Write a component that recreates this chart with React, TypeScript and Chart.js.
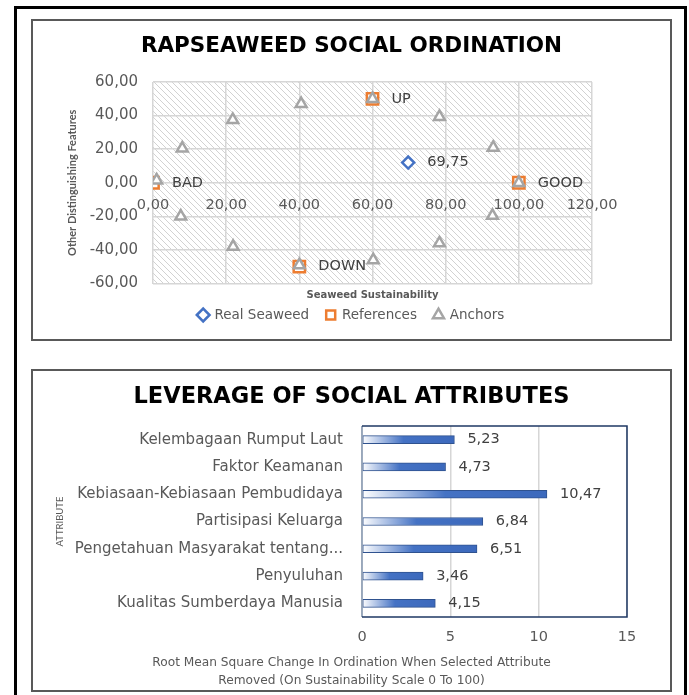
import { useEffect, useRef } from "react";
import { Chart, registerables } from "chart.js";

Chart.register(...registerables);

// ---------- Ordination (Seaweed Sustainability vs Other Distinguishing Features)
const seaweedX = [69.75];
const seaweedY = [12];
const referenceNames = ["BAD", "GOOD", "UP", "DOWN"];
const referenceX = [0, 100, 60, 40];
const referenceY = [0, 0, 50, -50];
const anchorX = [1, 8, 21.8, 40.5, 60, 78.3, 93, 100, 92.8, 78.3, 60.2, 40, 21.9, 7.6];
const anchorY = [1.5, 20.5, 37.5, 47, 50, 39.3, 21, 0, -19.6, -36, -46, -49, -38, -20];
const ordinationXTicks = [0, 20, 40, 60, 80, 100, 120];
const ordinationYTicks = [-60, -40, -20, 0, 20, 40, 60];

// ---------- Leverage of social attributes
const attributeNames = [
  "Kelembagaan Rumput Laut",
  "Faktor Keamanan",
  "Kebiasaan-Kebiasaan Pembudidaya",
  "Partisipasi Keluarga",
  "Pengetahuan Masyarakat tentang...",
  "Penyuluhan",
  "Kualitas Sumberdaya Manusia",
];
const leverageValues = [5.23, 4.73, 10.47, 6.84, 6.51, 3.46, 4.15];
const leverageTicks = [0, 5, 10, 15];
const leverageAxisTitle = [
  "Root Mean Square Change In Ordination When Selected Attribute",
  "Removed (On Sustainability Scale 0 To 100)",
];

const WIDE = "'DejaVu Sans', sans-serif";
const NARROW = "Lato, 'Noto Sans', sans-serif";
const AXIS_GRAY = "#595959";
const LABEL_GRAY = "#404040";
const GRID = "#d6d6d6";

const fmt2 = (v: number) => v.toFixed(2).replace(".", ",");
const fmtComma = (v: number) => String(v).replace(".", ",");

// diagonal hatch behind the ordination plot
const hatchPlugin = {
  id: "hatch",
  beforeDraw(chart: any) {
    const { ctx, chartArea: a } = chart;
    const tile = document.createElement("canvas");
    tile.width = 6;
    tile.height = 6;
    const t = tile.getContext("2d")!;
    t.strokeStyle = "#d2d2d2";
    t.lineWidth = 1;
    t.beginPath();
    t.moveTo(0, 0);
    t.lineTo(6, 6);
    t.moveTo(-1, 5);
    t.lineTo(1, 7);
    t.moveTo(5, -1);
    t.lineTo(7, 1);
    t.stroke();
    ctx.save();
    ctx.fillStyle = "#ffffff";
    ctx.fillRect(a.left, a.top, a.right - a.left, a.bottom - a.top);
    ctx.fillStyle = ctx.createPattern(tile, "repeat");
    ctx.fillRect(a.left, a.top, a.right - a.left, a.bottom - a.top);
    ctx.restore();
  },
};

// point labels and x tick labels running along the zero line
const ordinationLabels = {
  id: "ordinationLabels",
  afterDraw(chart: any) {
    const { ctx } = chart;
    ctx.save();
    ctx.font = `14.5px ${WIDE}`;
    ctx.fillStyle = LABEL_GRAY;
    ctx.textAlign = "left";
    ctx.textBaseline = "middle";
    chart.getDatasetMeta(0).data.forEach((pt: any, i: number) => {
      ctx.fillText(fmt2(seaweedX[i]), pt.x + 19, pt.y);
    });
    chart.getDatasetMeta(1).data.forEach((pt: any, i: number) => {
      ctx.fillText(referenceNames[i], pt.x + 19, pt.y);
    });
    const xs = chart.scales.x;
    const ys = chart.scales.y;
    const y0 = ys.getPixelForValue(0) + 22;
    ctx.fillStyle = AXIS_GRAY;
    ctx.textAlign = "center";
    ordinationXTicks.forEach((v) => ctx.fillText(fmt2(v), xs.getPixelForValue(v), y0));
    ctx.restore();
  },
};

function OrdinationChart() {
  const ref = useRef<HTMLCanvasElement>(null);
  useEffect(() => {
    const chart = new Chart(ref.current!, {
      type: "scatter",
      data: {
        datasets: [
          {
            label: "Real Seaweed",
            data: seaweedX.map((x, i) => ({ x, y: seaweedY[i] })),
            pointStyle: "rectRot",
            pointRadius: 6,
            pointBorderWidth: 2.5,
            pointBorderColor: "#4472C4",
            pointBackgroundColor: "#ffffff",
            borderColor: "#4472C4",
            backgroundColor: "#ffffff",
            xAxisID: "x",
            yAxisID: "y",
            order: 2,
          },
          {
            label: "References",
            data: referenceX.map((x, i) => ({ x, y: referenceY[i] })),
            pointStyle: "rect",
            pointRadius: 8,
            pointBorderWidth: 2.5,
            pointBorderColor: "#ED7D31",
            pointBackgroundColor: "#ffffff",
            borderColor: "#ED7D31",
            backgroundColor: "#ffffff",
            xAxisID: "x",
            yAxisID: "y",
            order: 3,
          },
          {
            label: "Anchors",
            data: anchorX.map((x, i) => ({ x, y: anchorY[i] })),
            pointStyle: "triangle",
            pointRadius: 6.3,
            pointBorderWidth: 2.5,
            pointBorderColor: "#A5A5A5",
            pointBackgroundColor: "#ffffff",
            borderColor: "#A5A5A5",
            backgroundColor: "#ffffff",
            xAxisID: "x",
            yAxisID: "y",
            order: 1,
          },
        ],
      } as any,
      options: {
        animation: false,
        responsive: false,
        events: [],
        layout: { padding: { left: 0, right: 0, top: 0, bottom: 7.25 } },
        plugins: {
          title: {
            display: true,
            text: "RAPSEAWEED SOCIAL ORDINATION",
            color: "#000000",
            font: { family: WIDE, size: 21.5, weight: "bold" },
            padding: { top: 13, bottom: 22.2 },
          },
          legend: {
            position: "bottom",
            labels: {
              usePointStyle: true,
              boxHeight: 9,
              boxWidth: 9,
              padding: 17,
              color: AXIS_GRAY,
              font: { family: WIDE, size: 13.5 },
              sort: (a: any, b: any) => a.datasetIndex - b.datasetIndex,
            },
          },
          tooltip: { enabled: false },
        },
        scales: {
          x: {
            type: "linear",
            min: 0,
            max: 120,
            afterBuildTicks: (s: any) => {
              s.ticks = ordinationXTicks.map((value) => ({ value }));
            },
            ticks: { display: false },
            grid: { color: GRID, lineWidth: 1.5, drawTicks: false },
            border: { display: false },
            title: {
              display: true,
              text: "Seaweed Sustainability",
              color: AXIS_GRAY,
              font: { family: WIDE, size: 10, weight: "bold" },
              padding: { top: 0, bottom: -10.25 },
            },
            afterFit: (s: any) => {
              s.height = 7.75;
            },
          },
          y: {
            type: "linear",
            min: -60,
            max: 60,
            afterBuildTicks: (s: any) => {
              s.ticks = ordinationYTicks.map((value) => ({ value }));
            },
            ticks: {
              callback: (v: any) => fmt2(Number(v)),
              color: AXIS_GRAY,
              font: { family: WIDE, size: 15 },
              padding: 15,
            },
            grid: { color: GRID, lineWidth: 1.5, drawTicks: false },
            border: { display: false },
            title: {
              display: true,
              text: "Other Distinguishing Features",
              color: AXIS_GRAY,
              font: { family: NARROW, size: 11, weight: "bold" },
              padding: { top: 32.4, bottom: 0 },
            },
            afterFit: (s: any) => {
              s.width = 120;
            },
          },
          yRight: {
            type: "linear",
            position: "right",
            ticks: { display: false },
            grid: { display: false },
            border: { display: false },
            afterFit: (s: any) => {
              s.width = 78;
            },
          },
        },
      } as any,
      plugins: [hatchPlugin, ordinationLabels],
    });
    return () => chart.destroy();
  }, []);
  return <canvas ref={ref} width={637} height={318} style={{ display: "block" }} />;
}

// bar frame, value labels and the two-line axis caption
const leverageDecor = {
  id: "leverageDecor",
  afterDatasetsDraw(chart: any) {
    const { ctx, chartArea: a } = chart;
    ctx.save();
    ctx.lineWidth = 1.5;
    ctx.strokeStyle = "#8497B0";
    ctx.beginPath();
    ctx.moveTo(a.left, a.top);
    ctx.lineTo(a.left, a.bottom);
    ctx.stroke();
    ctx.strokeStyle = "#1F3864";
    ctx.beginPath();
    ctx.moveTo(a.left, a.top);
    ctx.lineTo(a.right, a.top);
    ctx.lineTo(a.right, a.bottom);
    ctx.lineTo(a.left, a.bottom);
    ctx.stroke();

    ctx.font = `14.5px ${WIDE}`;
    ctx.fillStyle = LABEL_GRAY;
    ctx.textAlign = "left";
    ctx.textBaseline = "middle";
    chart.getDatasetMeta(0).data.forEach((bar: any, i: number) => {
      ctx.fillText(fmtComma(leverageValues[i]), bar.x + 13, bar.y);
    });

    ctx.font = `12.2px ${WIDE}`;
    ctx.fillStyle = AXIS_GRAY;
    ctx.textAlign = "center";
    leverageAxisTitle.forEach((line, i) => {
      ctx.fillText(line, chart.width / 2, a.bottom + 46 + i * 18);
    });
    ctx.restore();
  },
};

function LeverageChart() {
  const ref = useRef<HTMLCanvasElement>(null);
  useEffect(() => {
    const chart = new Chart(ref.current!, {
      type: "bar",
      data: {
        labels: attributeNames,
        datasets: [
          {
            data: leverageValues,
            barThickness: 8,
            borderWidth: 1,
            borderColor: "#2F528F",
            borderSkipped: false,
            xAxisID: "x",
            yAxisID: "y",
            backgroundColor: (c: any) => {
              const chart = c.chart;
              if (!chart.chartArea || c.type !== "data") return "#4472C4";
              const xs = chart.scales.x;
              const x0 = xs.getPixelForValue(0);
              const x1 = xs.getPixelForValue(c.raw);
              const g = chart.ctx.createLinearGradient(x0, 0, x1, 0);
              g.addColorStop(0, "#ffffff");
              g.addColorStop(0.45, "#4472C4");
              g.addColorStop(1, "#3C69BC");
              return g;
            },
          },
        ],
      } as any,
      options: {
        indexAxis: "y",
        animation: false,
        responsive: false,
        events: [],
        layout: { padding: 0 },
        plugins: {
          legend: { display: false },
          tooltip: { enabled: false },
          title: {
            display: true,
            text: "LEVERAGE OF SOCIAL ATTRIBUTES",
            color: "#000000",
            font: { family: WIDE, size: 22.5, weight: "bold" },
            padding: { top: 12.5, bottom: 15.5 },
          },
        },
        scales: {
          x: {
            type: "linear",
            min: 0,
            max: 15,
            afterBuildTicks: (s: any) => {
              s.ticks = leverageTicks.map((value) => ({ value }));
            },
            ticks: {
              callback: (v: any) => String(v),
              color: AXIS_GRAY,
              font: { family: WIDE, size: 14.5 },
              padding: 11.3,
            },
            grid: { color: GRID, lineWidth: 1.5, drawTicks: false },
            border: { display: false },
            afterFit: (s: any) => {
              s.height = 73;
            },
          },
          y: {
            type: "category",
            ticks: { color: AXIS_GRAY, font: { family: WIDE, size: 15 }, padding: 19 },
            grid: { display: false, drawTicks: false },
            border: { display: false },
            title: {
              display: true,
              text: "ATTRIBUTE",
              color: AXIS_GRAY,
              font: { family: NARROW, size: 9.5 },
              padding: { top: 21.3, bottom: 0 },
            },
            afterFit: (s: any) => {
              s.width = 329;
            },
          },
          yRight: {
            type: "linear",
            position: "right",
            ticks: { display: false },
            grid: { display: false },
            border: { display: false },
            afterFit: (s: any) => {
              s.width = 43;
            },
          },
        },
      } as any,
      plugins: [leverageDecor],
    });
    return () => chart.destroy();
  }, []);
  return <canvas ref={ref} width={637} height={319} style={{ display: "block" }} />;
}

export default function App() {
  return (
    <div
      style={{
        position: "absolute",
        left: 0,
        top: 0,
        width: 689,
        height: 695,
        overflow: "hidden",
        background: "#ffffff",
      }}
    >
      <div
        style={{
          position: "absolute",
          left: 14,
          top: 6,
          width: 673,
          height: 700,
          border: "3px solid #000000",
          boxSizing: "border-box",
        }}
      />
      <div
        style={{
          position: "absolute",
          left: 31,
          top: 19,
          width: 641,
          height: 322,
          border: "2px solid #595959",
          boxSizing: "border-box",
          background: "#ffffff",
        }}
      >
        <OrdinationChart />
      </div>
      <div
        style={{
          position: "absolute",
          left: 31,
          top: 369,
          width: 641,
          height: 323,
          border: "2px solid #595959",
          boxSizing: "border-box",
          background: "#ffffff",
        }}
      >
        <LeverageChart />
      </div>
    </div>
  );
}
